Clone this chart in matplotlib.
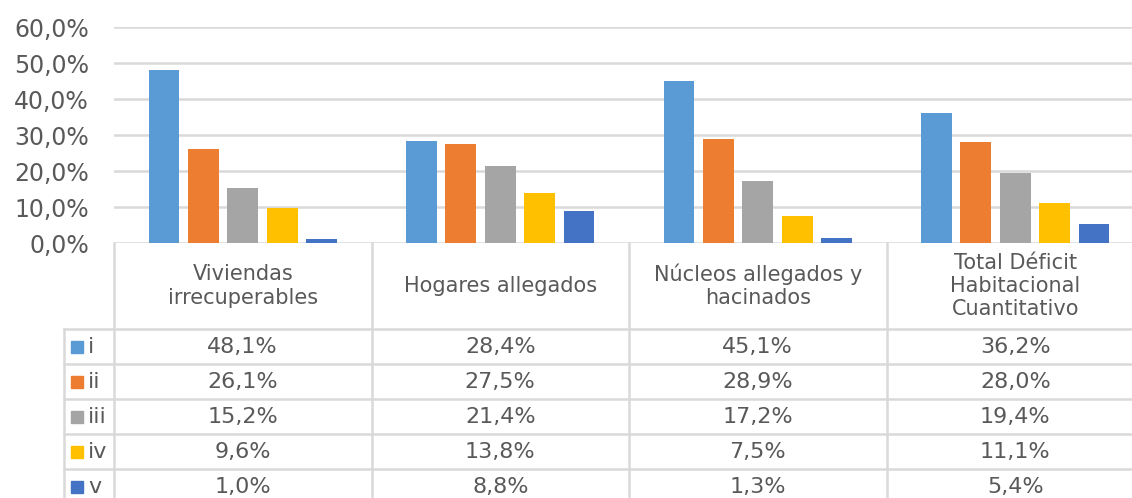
import matplotlib
matplotlib.use("Agg")
import matplotlib.pyplot as plt
import numpy as np
from matplotlib.ticker import FuncFormatter

categories = ["Viviendas\nirrecuperables", "Hogares allegados",
              "Núcleos allegados y\nhacinados", "Total Déficit\nHabitacional\nCuantitativo"]
series = ["i", "ii", "iii", "iv", "v"]
val_i = [48.1, 28.4, 45.1, 36.2]
val_ii = [26.1, 27.5, 28.9, 28.0]
val_iii = [15.2, 21.4, 17.2, 19.4]
val_iv = [9.6, 13.8, 7.5, 11.1]
val_v = [1.0, 8.8, 1.3, 5.4]
values = [val_i, val_ii, val_iii, val_iv, val_v]
colors = ["#5B9BD5", "#ED7D31", "#A5A5A5", "#FFC000", "#4472C4"]

W, H = 1132, 498
txt = "#595959"
grid = "#d9d9d9"
plt.rcParams['font.family'] = ['DejaVu Sans']

fig = plt.figure(figsize=(W / 100, H / 100), dpi=100)

# plot area in pixels
left, right, top, base = 114, 1144, 27, 243
ax = fig.add_axes([left / W, (H - base) / H, (right - left) / W, (base - top) / H])
x = np.arange(len(categories))
step, bw = 0.153, 0.12
for k, (s, v) in enumerate(zip(series, values)):
    ax.bar(x + (k - 2) * step, v, bw, color=colors[k], zorder=3)
ax.set_xlim(-0.5, len(categories) - 0.5)
ax.set_ylim(0, 60)
ax.set_yticks(np.arange(0, 61, 10))
ax.yaxis.set_major_formatter(FuncFormatter(lambda v, p: f"{v:.1f}%".replace(".", ",")))
ax.grid(axis="y", color=grid, lw=1.8, zorder=0)
ax.set_xticks([])
ax.tick_params(axis="y", length=0, pad=18, labelsize=17, labelcolor=txt)
for sp in ax.spines.values():
    sp.set_visible(False)
ax.set_facecolor("none")

# data table under the chart, drawn in pixel coordinates
tab = fig.add_axes([0, 0, 1, 1], zorder=-1)
tab.set_xlim(0, W)
tab.set_ylim(H, 0)
tab.axis("off")
colw = (right - left) / len(categories)
leg_left = 64
head_bottom = 329
rowh = 35
for i in range(len(categories) + 1):
    tab.plot([left + i * colw] * 2, [base, H], color=grid, lw=1.8)
tab.plot([leg_left] * 2, [head_bottom, H], color=grid, lw=1.8)
for r in range(len(series)):
    y = head_bottom + r * rowh
    tab.plot([leg_left, right], [y, y], color=grid, lw=1.8)

for i, c in enumerate(categories):
    tab.text(left + (i + 0.5) * colw, (base + head_bottom) / 2, c, ha="center", va="center",
             fontsize=15, color=txt, linespacing=1.2)

for r, (s, v) in enumerate(zip(series, values)):
    yc = head_bottom + (r + 0.5) * rowh
    tab.add_patch(plt.Rectangle((71, yc - 6), 12, 12, color=colors[r]))
    tab.text(88, yc, s, ha="left", va="center", fontsize=16, color=txt)
    for i, val in enumerate(v):
        tab.text(left + (i + 0.5) * colw, yc, f"{val:.1f}%".replace(".", ","),
                 ha="center", va="center", fontsize=16, color=txt)

fig.savefig("out.png", dpi=100)
